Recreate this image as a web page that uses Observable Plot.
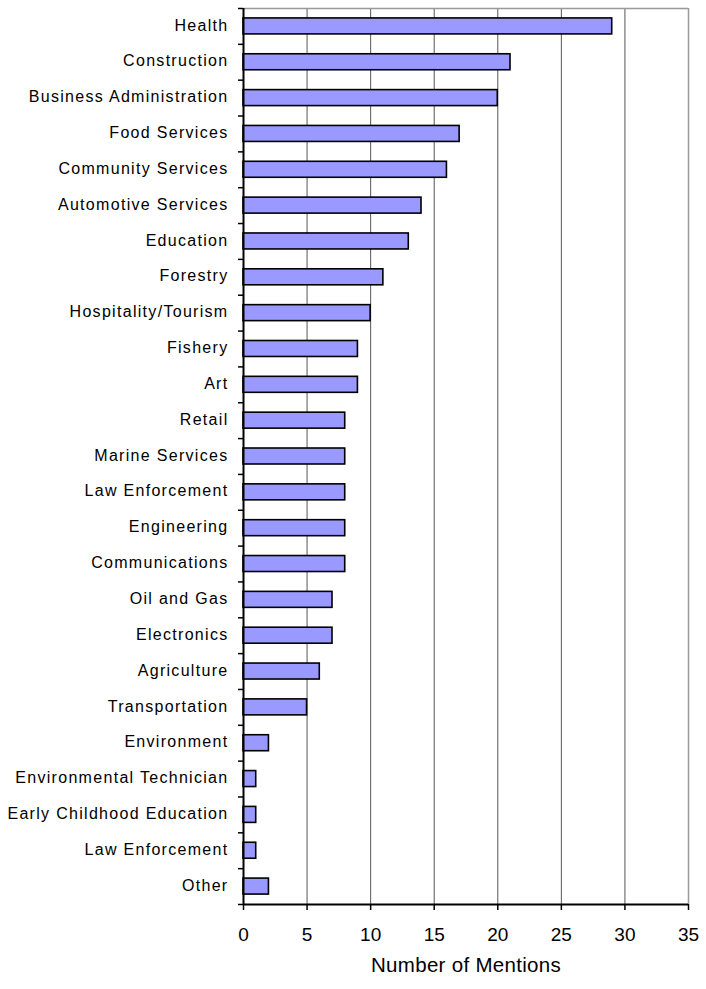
<!DOCTYPE html>
<html>
<head>
<meta charset="utf-8">
<script src="https://cdn.jsdelivr.net/npm/d3@7"></script>
<script src="https://cdn.jsdelivr.net/npm/@observablehq/plot@0.6"></script>
<style>
  html, body { margin: 0; padding: 0; background: #fff; }
  #chart svg { display: block; font-family: "Liberation Sans", Arial, sans-serif; }
</style>
</head>
<body>
<div id="chart"></div>
<script>
const categories = [
  "Health", "Construction", "Business Administration", "Food Services",
  "Community Services", "Automotive Services", "Education", "Forestry",
  "Hospitality/Tourism", "Fishery", "Art", "Retail", "Marine Services",
  "Law Enforcement", "Engineering", "Communications", "Oil and Gas",
  "Electronics", "Agriculture", "Transportation", "Environment",
  "Environmental Technician", "Early Childhood Education", "Law Enforcement", "Other"
];
const mentions = [29, 21, 20, 17, 16, 14, 13, 11, 10, 9, 9, 8, 8, 8, 8, 8, 7, 7, 6, 5, 2, 1, 1, 1, 2];
const xTicks = [0, 5, 10, 15, 20, 25, 30, 35];
const xTitle = "Number of Mentions";

const rows = categories.map((c, i) => ({ i, category: c, value: mentions[i] }));
const gridX = xTicks.filter(t => t > 0 && t < 35);
const bandEdges = d3.range(categories.length + 1);

const plot = Plot.plot({
  width: 706,
  height: 989,
  marginTop: 8,
  marginBottom: 85,
  marginLeft: 243,
  marginRight: 18,
  x: { domain: [0, 35], axis: null },
  y: { domain: [categories.length, 0], axis: null },
  marks: [
    Plot.ruleX(gridX, { stroke: "#555", strokeWidth: 1 }),
    Plot.ruleX([35], { stroke: "#999", strokeWidth: 1.5 }),
    Plot.ruleY([0], { stroke: "#999", strokeWidth: 1.5 }),
    Plot.rectX(rows, {
      x1: 0, x2: "value",
      y1: d => d.i + 0.277, y2: d => d.i + 0.723,
      fill: "#9999FF", stroke: "#000", strokeWidth: 1.6
    }),
    Plot.axisY(bandEdges, { tickSize: 5, tickFormat: () => "", stroke: "#000", strokeWidth: 1.5 }),
    Plot.axisX(xTicks, { tickSize: 6, tickPadding: 17, fontSize: 19, stroke: "#000", strokeWidth: 1.5, fill: "#000", label: null }),
    Plot.ruleX([0], { stroke: "#000", strokeWidth: 2 }),
    Plot.ruleY([categories.length], { stroke: "#000", strokeWidth: 2 }),
    Plot.text(rows, {
      x: 0, y: d => d.i + 0.5, text: "category",
      textAnchor: "end", dx: -15, dy: -1, fontSize: 16, fill: "#000"
    }),
    Plot.text([xTitle], {
      frameAnchor: "bottom", dy: 67, text: d => d, fontSize: 20.5, fill: "#000"
    })
  ]
});
d3.select(plot).selectAll("text")
  .filter(function () { return categories.includes(this.textContent); })
  .style("letter-spacing", "1.3px");
d3.select(plot).selectAll("text")
  .filter(function () { return this.textContent === xTitle; })
  .style("letter-spacing", "0.3px");
document.getElementById("chart").appendChild(plot);
</script>
</body>
</html>
